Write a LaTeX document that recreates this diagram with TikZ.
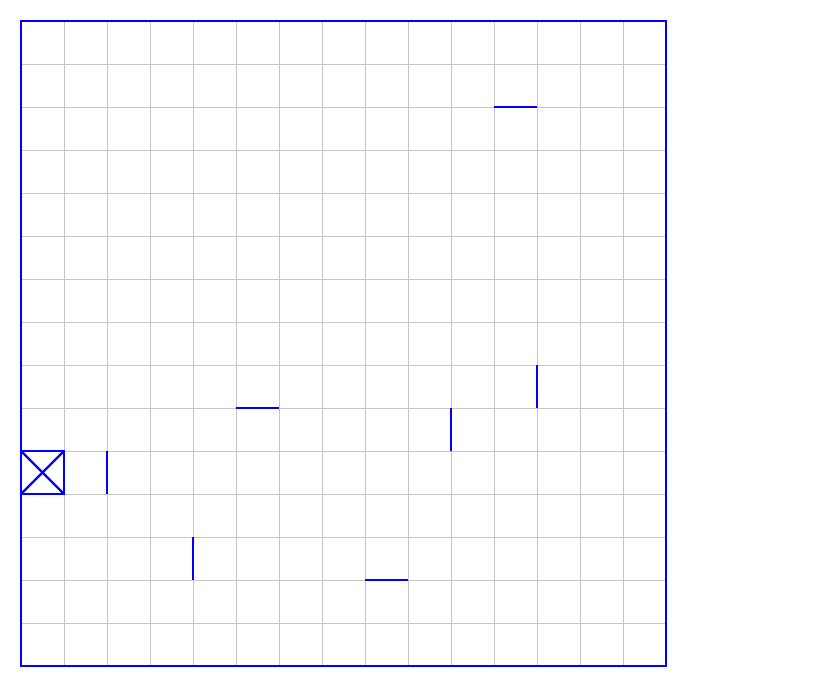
\documentclass[tikz,border=0pt]{standalone}
\begin{document}
\begin{tikzpicture}[x=0.7cm,y=0.7cm]
  \tikzstyle{wall}=[blue,line width=1.1pt]
  \useasboundingbox (-0.488,-0.767) rectangle (18.93,15.488);
  % grid
  \draw [gray!45,line width=0.4pt,step=0.7cm] (0,0) grid (15,15);
  \draw [wall] (0,0) rectangle (15,15);
  % goal cell
  \coordinate (g1) at (0,4);
  \coordinate (g2) at (1,5);
  \draw [wall] (g1) rectangle (g2);
  \draw [wall] (g1) -- (g2);
  \draw [wall] (0,5) -- (1,4);
  % walls
  \draw [wall] (11,13) -- (12,13);
  \draw [wall] (12,7) -- (12,6);
  \draw [wall] (5,6) -- (6,6);
  \draw [wall] (10,6) -- (10,5);
  \draw [wall] (2,5) -- (2,4);
  \draw [wall] (4,3) -- (4,2);
  \draw [wall] (8,2) -- (9,2);
\end{tikzpicture}
\end{document}
